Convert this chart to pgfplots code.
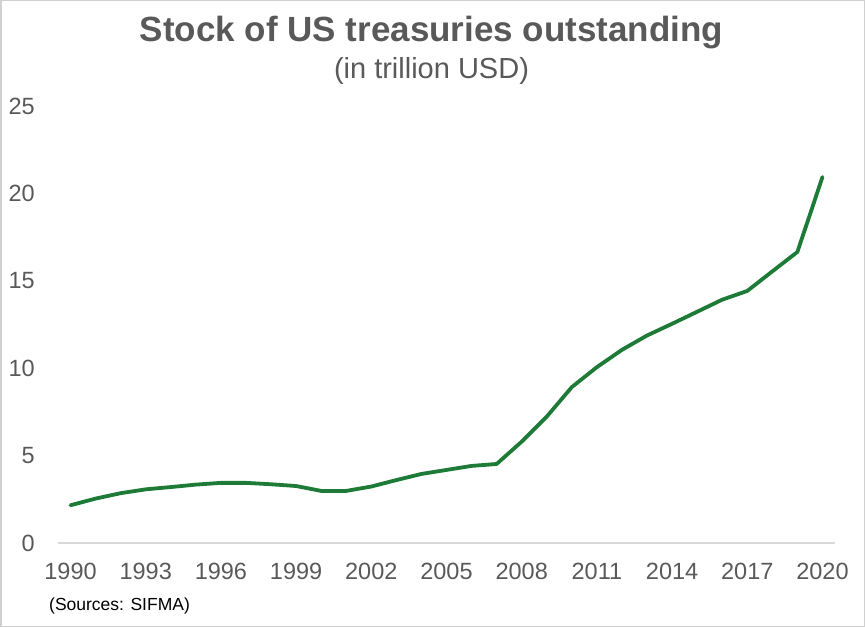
\documentclass[border=0pt]{standalone}
\usepackage{pgfplots}
\pgfplotsset{compat=1.18}
\usepackage{fontspec}
\setmainfont{Liberation Sans}
\definecolor{txtgray}{HTML}{595959}
\definecolor{axgray}{HTML}{D9D9D9}
\definecolor{framegray}{HTML}{D0D0D0}
\definecolor{lineGreen}{HTML}{1E7A37}
\begin{document}
\begin{tikzpicture}[x=1pt,y=1pt]
\useasboundingbox (0,0) rectangle (865,627);
\draw[framegray, line width=1.5pt] (0.75,0.75) rectangle (864.25,626.25);
\begin{axis}[
  at={(58pt,84pt)}, anchor=origin,
  scale only axis,
  width=777pt, height=437pt,
  xmin=1989.5, xmax=2020.5,
  ymin=0, ymax=25,
  xtick={1990,1993,...,2020},
  ytick={0,5,...,25},
  axis y line*=left,
  axis x line*=bottom,
  y axis line style={draw=none},
  x axis line style={axgray, line width=1.5pt, -},
  major tick length=0pt,
  /pgf/number format/assume math mode=true,
  /pgf/number format/1000 sep={},
  ticklabel style={text=txtgray, font=\fontsize{23.5}{28}\selectfont, inner sep=0pt},
  xticklabel style={anchor=north, yshift=-20pt},
  yticklabel style={anchor=east, xshift=-23pt},
  clip=false,
]
\addplot[lineGreen, line width=3.8pt, line join=round, line cap=round] coordinates {
(1990,2.16) (1991,2.54) (1992,2.85) (1993,3.07) (1994,3.20) (1995,3.34)
(1996,3.44) (1997,3.44) (1998,3.36) (1999,3.26) (2000,2.98) (2001,2.98)
(2002,3.23) (2003,3.60) (2004,3.95) (2005,4.18) (2006,4.41) (2007,4.52)
(2008,5.80) (2009,7.23) (2010,8.92) (2011,10.06) (2012,11.05) (2013,11.87)
(2014,12.54) (2015,13.23) (2016,13.92) (2017,14.42) (2018,15.54) (2019,16.65)
(2020,20.94)
};
\end{axis}
\node[anchor=base, text=txtgray, inner sep=0pt, font=\fontsize{35}{42}\selectfont\bfseries] at (431.5,585.3) {Stock of US treasuries outstanding};
\node[anchor=base, text=txtgray, inner sep=0pt, font=\fontsize{29}{35}\selectfont] at (431.5,548) {(in trillion USD)};
\node[anchor=base west, text=black, inner sep=0pt, font=\fontsize{17.5}{21}\selectfont] at (49,17) {(Sources: SIFMA)};
\end{tikzpicture}
\end{document}
